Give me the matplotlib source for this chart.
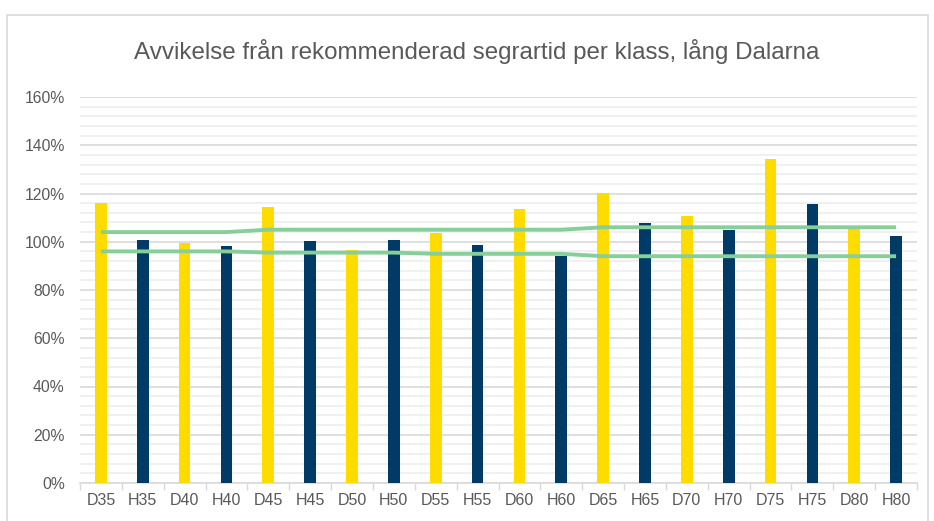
import numpy as np
import matplotlib
matplotlib.use("Agg")
import matplotlib.pyplot as plt
from matplotlib.patches import Rectangle
from matplotlib.ticker import MultipleLocator, PercentFormatter

klasser = ["D35", "H35", "D40", "H40", "D45", "H45", "D50", "H50", "D55", "H55",
           "D60", "H60", "D65", "H65", "D70", "H70", "D75", "H75", "D80", "H80"]
avvikelse = [115.9, 100.7, 99.3, 98.1, 114.4, 100.2, 96.6, 100.7, 103.5, 98.5,
             113.4, 94.2, 120.1, 107.8, 110.7, 104.9, 134.3, 115.6, 106.0, 102.5]
ovre_grans = [104, 104, 104, 104, 105, 105, 105, 105, 105, 105,
              105, 105, 106, 106, 106, 106, 106, 106, 106, 106]
undre_grans = [96, 96, 96, 96, 95.5, 95.5, 95.5, 95.5, 95, 95,
               95, 95, 94, 94, 94, 94, 94, 94, 94, 94]

GUL = "#FFDC00"
BLA = "#003A66"
GRON = "#86CF9A"
GRA = "#595959"

plt.rcParams["font.family"] = ["Liberation Sans", "DejaVu Sans"]

fig = plt.figure(figsize=(9.34, 5.21), dpi=100)
ax = fig.add_axes([80 / 934, 38 / 521, 837 / 934, 386 / 521])

# ram runt diagramytan
fig.patches.append(Rectangle((7 / 934, -0.05), 921 / 934, 1.05 - 15 / 521,
                             transform=fig.transFigure, fill=False,
                             edgecolor="#d9d9d9", lw=1.2))

x = np.arange(len(klasser))
farger = [GUL if k.startswith("D") else BLA for k in klasser]
ax.bar(x, avvikelse, width=0.28, color=farger, zorder=3)
ax.plot(x, ovre_grans, color=GRON, lw=2.8, zorder=4, solid_capstyle="butt")
ax.plot(x, undre_grans, color=GRON, lw=2.8, zorder=4, solid_capstyle="butt")

ax.set_xlim(-0.5, len(klasser) - 0.5)
ax.set_ylim(0, 160)
ax.yaxis.set_major_locator(MultipleLocator(20))
ax.yaxis.set_minor_locator(MultipleLocator(4))
ax.yaxis.set_major_formatter(PercentFormatter(decimals=0))
ax.grid(axis="y", which="major", color="#d9d9d9", lw=1.2, zorder=0)
ax.grid(axis="y", which="minor", color="#eeeeee", lw=1.2, zorder=0)

ax.set_xticks(x)
ax.set_xticklabels(klasser)
ax.set_xticks(np.arange(-0.5, len(klasser)), minor=True)
ax.tick_params(axis="x", which="major", length=0, pad=7, labelsize=11.5, labelcolor=GRA)
ax.tick_params(axis="x", which="minor", length=5, color="#d9d9d9", width=1)
ax.tick_params(axis="y", which="both", length=0, pad=11, labelsize=11.3, labelcolor=GRA)

for s in ["top", "right", "left"]:
    ax.spines[s].set_visible(False)
ax.spines["bottom"].set_color("#d9d9d9")
ax.spines["bottom"].set_linewidth(1.2)

fig.text(477 / 934, 1 - 51 / 521, "Avvikelse från rekommenderad segrartid per klass, lång Dalarna",
         ha="center", va="center", fontsize=17.4, color=GRA)

fig.savefig("out.png", dpi=100)
